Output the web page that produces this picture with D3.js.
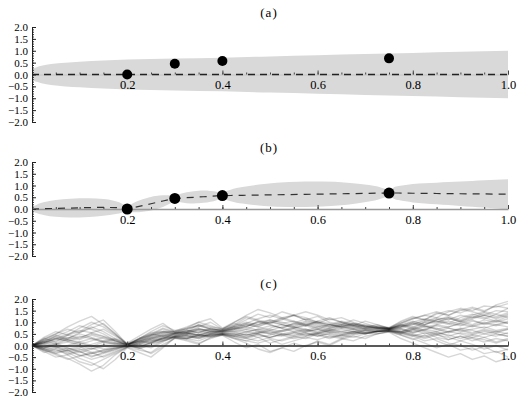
<!DOCTYPE html>
<html>
<head>
<meta charset="utf-8">
<title>GP panels</title>
<style>
  body { margin: 0; background: #fff; }
  svg { display: block; }
  text { font-family: "Liberation Serif", serif; font-size: 12.5px; fill: #000; }
  .yaxis text { font-size: 11px; }
  .band { fill: #d9d9d9; }
  .title { text-anchor: middle; letter-spacing: 1px; font-size: 13px; }
</style>
<script src="https://cdn.jsdelivr.net/npm/d3@7"></script>
</head>
<body>
<svg width="519" height="398"></svg>
<script>
// tick labels
const xTicks = [0.2, 0.4, 0.6, 0.8, 1.0];
const yTicks = [-2, -1.5, -1, -0.5, 0, 0.5, 1, 1.5, 2];

// observations
const obsX = [0.2, 0.3, 0.4, 0.75];
const obsY = [0.0, 0.45, 0.57, 0.68];

// (a) prior band half-width
const priorT      = [0, 0.001, 0.004, 0.01, 0.02, 0.04, 0.07, 0.1, 0.15, 0.2, 0.3, 0.4, 0.5, 0.6, 0.7, 0.8, 0.9, 1.0];
const priorSpread = [0, 0.15, 0.25, 0.31, 0.37, 0.44, 0.5, 0.54, 0.59, 0.63, 0.67, 0.71, 0.76, 0.81, 0.86, 0.91, 0.96, 1.0];

// (b) posterior mean and band half-width
const postT = [0, 0.002, 0.01, 0.024, 0.05, 0.08, 0.1, 0.12, 0.15, 0.176, 0.19, 0.198, 0.2,
  0.201, 0.205, 0.212, 0.225, 0.24, 0.25, 0.26, 0.275, 0.288, 0.295, 0.299, 0.3,
  0.301, 0.305, 0.312, 0.325, 0.34, 0.35, 0.36, 0.375, 0.388, 0.395, 0.399, 0.4,
  0.4035, 0.4175, 0.442, 0.4875, 0.54, 0.575, 0.61, 0.6625, 0.708, 0.7325, 0.7465, 0.75,
  0.7515, 0.755, 0.76, 0.77, 0.785, 0.8, 0.825, 0.85, 0.875, 0.9, 0.925, 0.95, 0.975, 1.0];
const postMean = [0, 0, 0.005, 0.012, 0.025, 0.04, 0.05, 0.06, 0.07, 0.06, 0.035, 0.01, 0,
  0.005, 0.02, 0.05, 0.11, 0.18, 0.225, 0.27, 0.34, 0.40, 0.43, 0.445, 0.45,
  0.451, 0.456, 0.464, 0.48, 0.498, 0.51, 0.522, 0.54, 0.556, 0.564, 0.569, 0.57,
  0.571, 0.575, 0.583, 0.597, 0.614, 0.625, 0.636, 0.652, 0.667, 0.675, 0.679, 0.68,
  0.68, 0.68, 0.68, 0.68, 0.675, 0.67, 0.665, 0.66, 0.655, 0.65, 0.645, 0.64, 0.635, 0.63];
const postSpread = [0, 0.08, 0.18, 0.27, 0.36, 0.40, 0.41, 0.40, 0.36, 0.27, 0.18, 0.08, 0,
  0.06, 0.13, 0.19, 0.25, 0.28, 0.29, 0.28, 0.25, 0.19, 0.13, 0.06, 0,
  0.05, 0.12, 0.18, 0.23, 0.26, 0.27, 0.26, 0.23, 0.18, 0.12, 0.05, 0,
  0.11, 0.24, 0.35, 0.47, 0.53, 0.54, 0.53, 0.47, 0.35, 0.24, 0.11, 0,
  0.10, 0.17, 0.24, 0.30, 0.35, 0.39, 0.43, 0.46, 0.49, 0.52, 0.55, 0.58, 0.61, 0.64];

// (c) sample paths
const sampleT = [0, 0.025, 0.05, 0.075, 0.1, 0.125, 0.15, 0.175, 0.2, 0.225, 0.25, 0.275, 0.3,
  0.325, 0.35, 0.375, 0.4, 0.425, 0.45, 0.475, 0.5, 0.525, 0.55, 0.575, 0.6, 0.625, 0.65,
  0.675, 0.7, 0.725, 0.75, 0.775, 0.8, 0.825, 0.85, 0.875, 0.9, 0.925, 0.95, 0.975, 1.0];
const samplePaths = [
  [0,0.2,0.35,0.25,0.4,0.3,0.15,0.1,0.06, 0.2,0.35,0.5, 0.55, 0.6,0.7,0.65, 0.68, 0.8,0.95,0.85,1.0,0.9,0.75,0.85,0.7,0.9,0.8,0.75,0.9,0.8, 0.75, 0.85,1.0,0.9,1.1,1.2,1.0,1.15,1.3,1.2,1.35],
  [0,-0.15,-0.3,-0.2,-0.45,-0.35,-0.2,-0.1,-0.05, 0.1,0.25,0.3, 0.35, 0.3,0.4,0.45, 0.48, 0.4,0.3,0.45,0.35,0.5,0.6,0.45,0.55,0.7,0.6,0.5,0.65,0.6, 0.62, 0.5,0.4,0.55,0.35,0.25,0.4,0.3,0.15,0.3,0.2],
  [0,0.3,0.5,0.7,0.55,0.8,0.6,0.3,0.08, 0.3,0.55,0.6, 0.6, 0.7,0.9,0.8, 0.72, 0.9,1.2,1.05,0.95,1.15,1.0,0.85,1.05,1.2,1.0,0.9,0.8,0.75, 0.74, 0.95,1.15,1.3,1.2,1.45,1.6,1.5,1.7,1.65,1.8],
  [0,-0.25,-0.5,-0.4,-0.7,-0.85,-0.6,-0.35,-0.08, -0.2,-0.3,0.05, 0.3, 0.3,0.2,0.4, 0.45, 0.3,0.2,0.35,0.1,0.25,0.4,0.3,0.5,0.35,0.45,0.6,0.5,0.6, 0.6, 0.45,0.3,0.1,-0.1,0.05,-0.2,-0.1,-0.35,-0.25,-0.5],
  [0,0.1,0.25,0.45,0.6,0.9,1.1,0.6,0.04, -0.1,0.15,0.3, 0.5, 0.55,0.45,0.6, 0.6, 0.75,0.6,0.7,0.55,0.65,0.8,0.7,0.6,0.75,0.9,0.8,0.7,0.75, 0.7, 0.8,0.95,0.85,0.7,0.8,0.95,0.85,1.0,0.9,1.05],
  [0,-0.1,0.05,-0.15,-0.05,-0.3,-0.2,-0.1,-0.02, 0.15,0.3,0.4, 0.42, 0.5,0.45,0.55, 0.55, 0.65,0.55,0.7,0.85,0.75,0.6,0.7,0.55,0.65,0.75,0.7,0.6,0.65, 0.68, 0.75,0.6,0.7,0.85,0.75,0.6,0.7,0.8,0.65,0.75],
  [0,0.15,0.05,0.25,0.1,-0.05,0.15,0.05,0.02, 0.3,0.6,0.85, 0.65, 0.75,1.0,1.15, 0.75, 1.0,1.3,1.55,1.4,1.2,1.3,1.1,1.25,1.0,0.9,1.1,0.95,0.8, 0.78, 1.0,1.2,1.1,1.35,1.5,1.4,1.6,1.45,1.75,1.9],
  [0,-0.2,-0.1,-0.3,-0.55,-0.75,-1.0,-0.6,-0.1, -0.3,-0.5,-0.1, 0.32, 0.2,0.05,0.35, 0.44, 0.15,-0.1,0.05,-0.25,-0.1,0.1,-0.05,0.2,0.05,0.3,0.2,0.4,0.5, 0.58, 0.3,0.1,-0.1,-0.3,-0.5,-0.35,-0.6,-0.45,-0.7,-0.55],
  [0,0.35,0.6,0.45,0.75,1.0,0.8,0.45,0.1, 0.4,0.7,0.95, 0.58, 0.6,0.9,0.7, 0.66, 0.85,1.1,1.35,1.2,1.45,1.3,1.1,0.95,1.15,1.0,0.85,1.05,0.9, 0.73, 0.9,0.75,1.0,1.15,0.95,1.2,1.35,1.2,1.05,1.25],
  [0,-0.3,-0.15,-0.4,-0.25,-0.5,-0.3,-0.15,0.03, -0.15,0.05,0.2, 0.38, 0.35,0.5,0.4, 0.5, 0.45,0.6,0.5,0.35,0.5,0.4,0.55,0.45,0.3,0.45,0.55,0.5,0.6, 0.66, 0.55,0.7,0.5,0.6,0.4,0.55,0.45,0.6,0.5,0.4],
  [0,0.1,0.3,0.2,0.05,0.2,0.35,0.2,0.0, 0.2,0.1,0.3, 0.52, 0.65,0.55,0.75, 0.62, 0.7,0.85,1.0,0.9,0.75,0.9,1.05,0.95,0.8,0.9,0.85,0.75,0.8, 0.72, 0.85,0.7,0.9,1.05,0.95,0.85,1.05,0.95,1.1,0.95],
  [0,-0.1,-0.25,-0.1,-0.3,-0.15,0.05,0.1,-0.04, 0.05,0.2,0.25, 0.4, 0.4,0.3,0.45, 0.52, 0.5,0.4,0.55,0.65,0.5,0.45,0.6,0.7,0.55,0.6,0.7,0.55,0.6, 0.65, 0.6,0.45,0.35,0.5,0.25,0.4,0.2,0.35,0.15,0.3],
  [0,0.25,0.5,0.8,1.05,1.25,0.9,0.5,0.05, 0.15,0.4,0.55, 0.62, 0.8,1.0,0.85, 0.7, 0.95,0.8,1.05,0.9,0.75,0.95,1.15,1.0,0.85,1.0,0.9,0.8,0.85, 0.74, 1.05,1.25,1.1,1.4,1.3,1.55,1.45,1.3,1.5,1.45],
  [0,-0.05,0.1,-0.1,-0.25,-0.45,-0.35,-0.2,0.01, -0.05,0.1,0.35, 0.36, 0.45,0.6,0.5, 0.49, 0.4,0.5,0.35,0.45,0.6,0.7,0.55,0.4,0.5,0.4,0.55,0.65,0.6, 0.64, 0.5,0.65,0.8,0.7,0.55,0.7,0.85,0.75,0.9,0.8],
  [0,0.2,0.1,0.3,0.5,0.35,0.2,0.3,0.07, 0.25,0.45,0.7, 0.56, 0.55,0.4,0.5, 0.64, 0.75,0.9,0.8,1.0,1.2,1.05,0.9,1.05,0.95,0.8,0.95,0.85,0.75, 0.7, 0.6,0.8,0.65,0.9,0.8,0.95,1.1,0.9,1.05,0.95],
  [0,-0.2,-0.4,-0.6,-0.45,-0.3,-0.5,-0.3,-0.06, -0.1,-0.05,0.2, 0.33, 0.25,0.1,0.3, 0.46, 0.35,0.2,0.1,0.25,0.05,0.2,0.35,0.25,0.4,0.3,0.45,0.55,0.5, 0.61, 0.55,0.4,0.2,0.3,0.1,0.0,-0.2,-0.05,-0.3,-0.15],
  [0,0.3,0.15,0.45,0.3,0.55,0.4,0.25,-0.01, 0.1,0.3,0.45, 0.48, 0.5,0.7,0.6, 0.58, 0.7,0.8,0.65,0.75,0.9,0.8,0.65,0.8,0.7,0.85,0.75,0.65,0.7, 0.69, 0.8,0.9,1.1,1.0,1.2,1.05,1.25,1.15,1.35,1.2],
  [0,0.05,-0.1,0.0,0.15,0.0,-0.15,-0.05,0.0, 0.2,0.45,0.6, 0.5, 0.55,0.7,0.65, 0.6, 0.6,0.45,0.55,0.7,0.6,0.75,0.9,0.75,0.65,0.8,0.7,0.75,0.7, 0.7, 0.7,0.55,0.65,0.5,0.6,0.75,0.65,0.5,0.6,0.7],
  [0,-0.15,-0.35,-0.55,-0.8,-1.1,-0.85,-0.4,-0.07, 0.05,-0.1,0.15, 0.4, 0.45,0.35,0.5, 0.53, 0.5,0.35,0.5,0.3,0.2,0.35,0.5,0.4,0.55,0.45,0.35,0.5,0.6, 0.63, 0.6,0.75,0.6,0.45,0.6,0.5,0.35,0.5,0.4,0.55],
  [0,0.15,0.4,0.6,0.85,0.7,0.5,0.2,0.04, 0.3,0.5,0.4, 0.54, 0.55,0.8,1.0, 0.7, 1.0,1.25,1.1,0.95,1.1,1.3,1.2,1.0,0.9,1.05,0.95,0.8,0.9, 0.76, 0.95,1.15,1.3,1.45,1.3,1.5,1.65,1.5,1.7,1.6],
  [0,0.1,-0.05,-0.2,-0.1,0.05,0.2,0.1,0.03, -0.1,-0.35,-0.05, 0.34, 0.3,0.45,0.35, 0.47, 0.3,0.1,-0.15,-0.3,-0.1,-0.25,0.0,0.15,0.0,0.25,0.4,0.3,0.5, 0.6, 0.45,0.25,0.45,0.2,0.0,0.2,0.05,-0.15,0.0,-0.2],
  [0,0.25,0.45,0.3,0.55,0.75,0.95,0.5,0.02, 0.25,0.5,0.75, 0.6, 0.7,0.85,0.7, 0.65, 0.8,0.95,1.15,1.3,1.15,1.3,1.45,1.3,1.1,1.2,1.0,0.85,0.75, 0.71, 0.9,1.05,0.9,1.1,1.25,1.1,1.3,1.45,1.35,1.6],
  [0,0.12,0.3,0.18,0.35,0.5,0.38,0.2,0.05, 0.25,0.4,0.55, 0.52, 0.65,0.55,0.7, 0.63, 0.75,0.9,0.8,0.65,0.8,0.95,0.85,1.0,0.9,0.8,0.9,0.8,0.75, 0.7, 0.9,0.8,1.0,0.95,1.15,1.05,0.9,1.1,1.0,1.15],
  [0,-0.12,-0.05,-0.25,-0.15,-0.35,-0.25,-0.1,-0.03, 0.1,0.2,0.3, 0.4, 0.45,0.35,0.5, 0.52, 0.55,0.45,0.6,0.5,0.4,0.55,0.65,0.5,0.6,0.7,0.6,0.55,0.62, 0.66, 0.7,0.55,0.7,0.6,0.75,0.65,0.5,0.65,0.55,0.7],
  [0,0.2,0.4,0.25,0.15,0.3,0.15,0.25,0.05, 0.2,0.35,0.45, 0.5, 0.6,0.75,0.6, 0.62, 0.8,0.7,0.9,1.05,0.9,0.8,0.95,0.85,0.75,0.85,0.95,0.85,0.78, 0.72, 0.85,1.0,1.15,1.05,0.9,1.05,1.2,1.3,1.15,1.3],
  [0,-0.05,-0.2,-0.35,-0.2,-0.1,-0.3,-0.15,-0.05, 0.0,0.15,0.25, 0.37, 0.3,0.45,0.4, 0.5, 0.45,0.35,0.5,0.6,0.45,0.55,0.4,0.5,0.65,0.55,0.6,0.5,0.6, 0.64, 0.55,0.7,0.85,0.75,0.6,0.7,0.55,0.7,0.6,0.5],
  [0,0.05,0.2,0.35,0.25,0.45,0.3,0.15,0.02, 0.3,0.45,0.6, 0.55, 0.75,0.85,0.75, 0.67, 0.85,1.0,0.9,1.1,1.0,0.85,1.0,0.9,0.8,0.95,0.85,0.75,0.8, 0.73, 0.8,0.95,0.8,0.9,1.05,0.9,0.8,0.95,0.85,1.0],
  [0,-0.1,0.05,0.15,0.0,-0.15,-0.05,0.05,-0.02, 0.05,0.25,0.35, 0.42, 0.55,0.45,0.6, 0.56, 0.6,0.7,0.6,0.5,0.65,0.75,0.6,0.7,0.6,0.5,0.6,0.7,0.65, 0.67, 0.6,0.5,0.4,0.55,0.45,0.3,0.45,0.35,0.5,0.4],
  [0,0.15,0.3,0.5,0.65,0.55,0.7,0.4,0.06, 0.15,0.3,0.4, 0.46, 0.5,0.65,0.55, 0.6, 0.7,0.8,1.0,1.1,0.95,1.05,0.9,0.8,0.9,0.75,0.85,0.7,0.72, 0.69, 0.75,0.9,1.05,1.2,1.1,1.3,1.2,1.4,1.25,1.4],
  [0,-0.2,-0.35,-0.2,-0.4,-0.6,-0.45,-0.25,-0.06, -0.05,0.1,0.2, 0.35, 0.4,0.3,0.45, 0.48, 0.4,0.3,0.2,0.35,0.45,0.3,0.4,0.55,0.45,0.35,0.5,0.55,0.6, 0.62, 0.55,0.45,0.3,0.45,0.35,0.2,0.35,0.25,0.1,0.25]
];

const svg = d3.select('svg');
const x = d3.scaleLinear().domain([0, 1]).range([32, 508]);
const yA = d3.scaleLinear().domain([-2, 2]).range([122, 27]);
const yB = d3.scaleLinear().domain([-2, 2]).range([256, 162]);
const yC = d3.scaleLinear().domain([-2, 2]).range([392, 299]);
const fmt = d3.format('.1f');

function drawYAxis(y) {
  const minor = svg.append('g').attr('transform', `translate(${x(0)},0)`)
    .call(d3.axisLeft(y).tickValues(y.ticks(40)).tickSizeInner(-2).tickSizeOuter(0).tickFormat(''));
  minor.select('.domain').remove();
  minor.selectAll('.tick line').attr('stroke', '#333');
  const major = svg.append('g').attr('class', 'yaxis').attr('transform', `translate(${x(0)},0)`)
    .call(d3.axisLeft(y).tickValues(yTicks).tickSizeInner(-4).tickSizeOuter(0).tickPadding(4).tickFormat(fmt));
  major.selectAll('.tick line').attr('stroke', '#222');
  major.select('.domain').attr('stroke', '#222');
}

function drawXAxis(y, lineColor, lineWidth) {
  const axis = svg.append('g').attr('transform', `translate(0,${y(0)})`)
    .call(d3.axisBottom(x).tickValues(xTicks).tickSizeInner(-4).tickSizeOuter(0).tickPadding(6).tickFormat(fmt));
  axis.select('.domain').attr('stroke', lineColor).attr('stroke-width', lineWidth);
  axis.selectAll('.tick line').attr('stroke', '#444');
  const minor = svg.append('g').attr('transform', `translate(0,${y(0)})`)
    .call(d3.axisBottom(x).tickValues(x.ticks(20)).tickSizeInner(-2).tickSizeOuter(0).tickFormat(''));
  minor.select('.domain').remove();
  minor.selectAll('.tick line').attr('stroke', '#444');
}

function title(label, yPos) {
  svg.append('text').attr('class', 'title').attr('x', 269).attr('y', yPos).text(label);
}

// ---- (a) ----
title('(a)', 17);
svg.append('path')
  .datum(priorT)
  .attr('class', 'band')
  .attr('d', d3.area()
    .x(t => x(t))
    .y0((t, i) => yA(-priorSpread[i]))
    .y1((t, i) => yA(priorSpread[i]))
    .curve(d3.curveMonotoneX));
drawXAxis(yA, '#c4c4c4', 1);
drawYAxis(yA);
svg.append('line')
  .attr('x1', x(0)).attr('x2', x(1))
  .attr('y1', yA(0)).attr('y2', yA(0))
  .attr('stroke', '#222').attr('stroke-width', 1.6)
  .attr('stroke-dasharray', '7,5');
svg.selectAll('.dotA').data(obsX).enter().append('circle')
  .attr('cx', d => x(d)).attr('cy', (d, i) => yA(obsY[i]))
  .attr('r', 5).attr('fill', '#000');

// ---- (b) ----
title('(b)', 152);
svg.append('path')
  .datum(postT)
  .attr('class', 'band')
  .attr('d', d3.area()
    .x(t => x(t))
    .y0((t, i) => yB(postMean[i] - postSpread[i]))
    .y1((t, i) => yB(postMean[i] + postSpread[i]))
    .curve(d3.curveMonotoneX));
drawXAxis(yB, '#999', 1.6);
drawYAxis(yB);
svg.append('path')
  .datum(postT)
  .attr('fill', 'none')
  .attr('stroke', '#333').attr('stroke-width', 1.2)
  .attr('stroke-dasharray', '7,6')
  .attr('d', d3.line().x(t => x(t)).y((t, i) => yB(postMean[i])));
svg.selectAll('.dotB').data(obsX).enter().append('circle')
  .attr('cx', d => x(d)).attr('cy', (d, i) => yB(obsY[i]))
  .attr('r', 5.5).attr('fill', '#000');

// ---- (c) ----
title('(c)', 288);
const pathLine = d3.line().x((v, i) => x(sampleT[i])).y(v => yC(v));
svg.append('g').selectAll('path').data(samplePaths).enter().append('path')
  .attr('d', pathLine)
  .attr('fill', 'none')
  .attr('stroke', '#000')
  .attr('stroke-opacity', 0.16)
  .attr('stroke-width', 1.4)
  .attr('stroke-linejoin', 'round');
drawXAxis(yC, '#222', 1.6);
drawYAxis(yC);
</script>
</body>
</html>
